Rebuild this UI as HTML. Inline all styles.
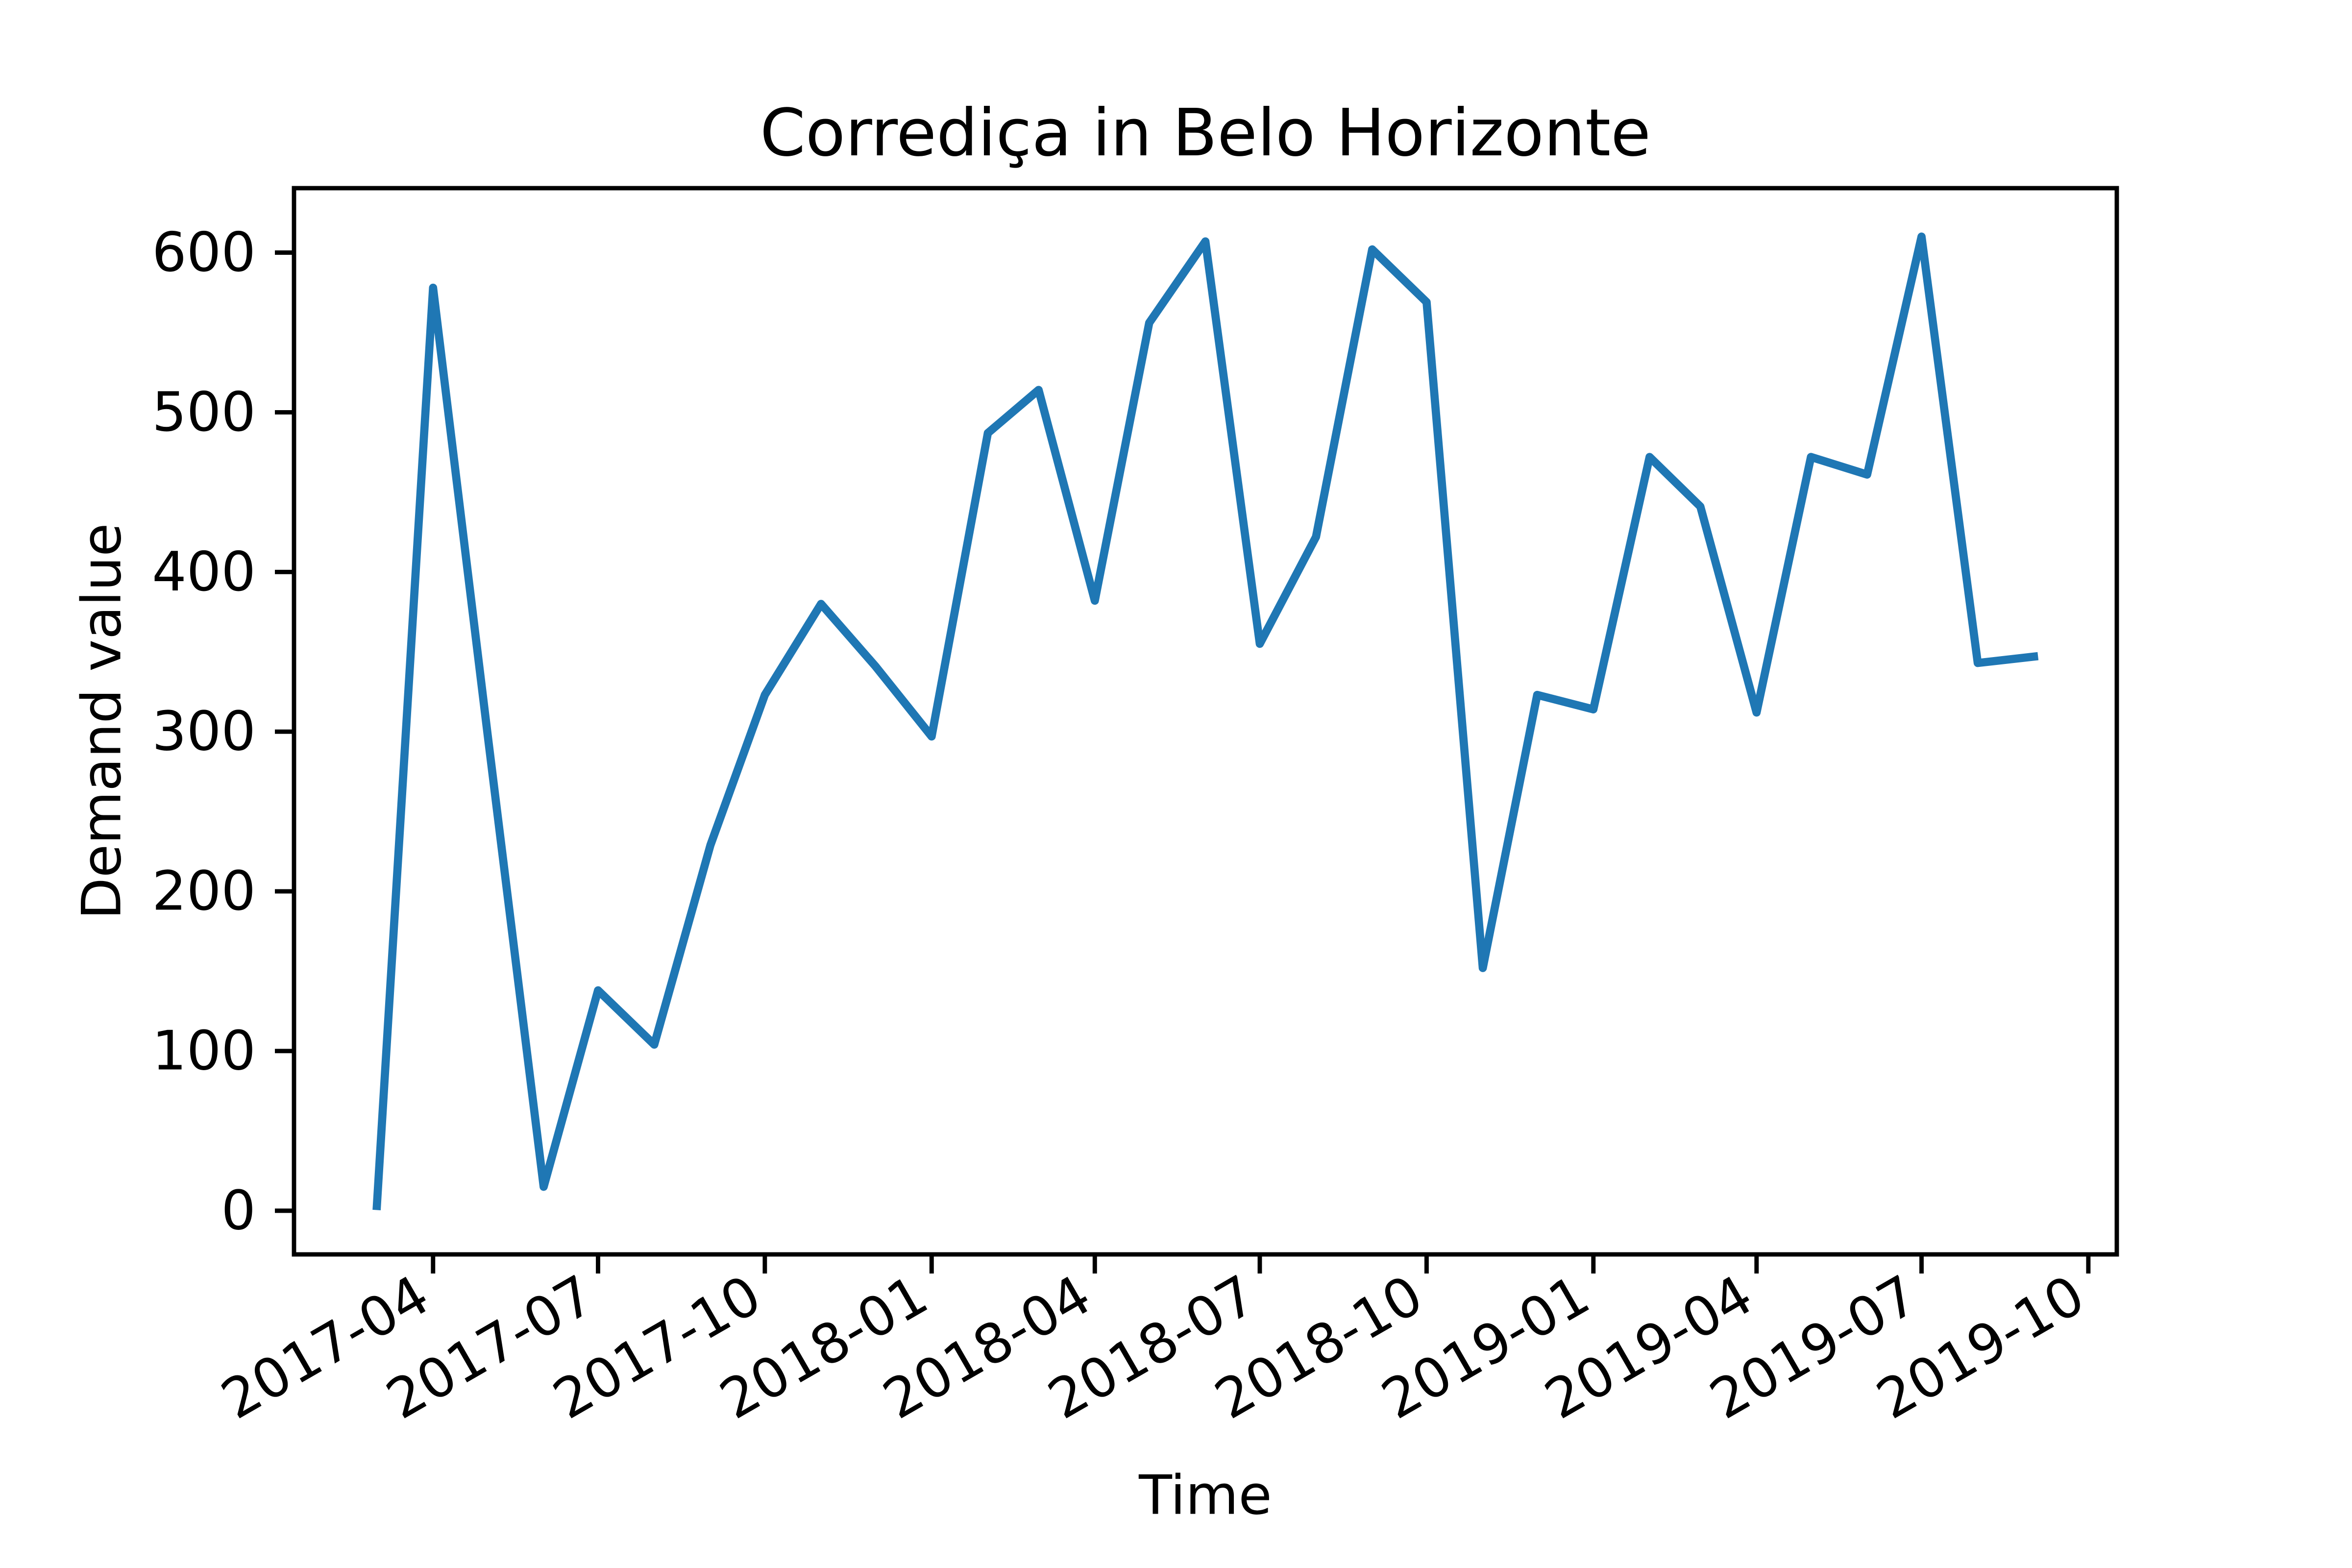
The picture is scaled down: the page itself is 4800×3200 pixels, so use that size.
<!DOCTYPE html>
<html><head><meta charset="utf-8"><style>html,body{margin:0;padding:0;background:#fff}svg{display:block}text{font-family:"DejaVu Sans","Liberation Sans",sans-serif;fill:#000}</style></head>
<body>
<svg id="chart" width="4800" height="3200" viewBox="0 0 4800 3200" xmlns="http://www.w3.org/2000/svg">
<rect width="4800" height="3200" fill="#fff"/>
<g id="plot"></g>
</svg>
<script>
const months = ["2017-03","2017-04","2017-05","2017-06","2017-07","2017-08","2017-09","2017-10","2017-11","2017-12","2018-01","2018-02","2018-03","2018-04","2018-05","2018-06","2018-07","2018-08","2018-09","2018-10","2018-11","2018-12","2019-01","2019-02","2019-03","2019-04","2019-05","2019-06","2019-07","2019-08","2019-09"];
const demand = [3,578,299,15,138,104,229,323,380,341,297,487,514,382,556,607,355,422,602,569,152,323,314,472,441,312,472,461,610,343,347];
const xTickLabels = ["2017-04","2017-07","2017-10","2018-01","2018-04","2018-07","2018-10","2019-01","2019-04","2019-07","2019-10"];
const yTickLabels = [0,100,200,300,400,500,600];

const L=600,R=4320,T=384,B=2560;
const NS="http://www.w3.org/2000/svg";
const g=document.getElementById('plot');
const day=s=>Date.UTC(+s.slice(0,4),+s.slice(5,7)-1,1)/864e5;
const xs=months.map(day);
const xmin0=Math.min(...xs),xmax0=Math.max(...xs),xr=xmax0-xmin0;
const xlo=xmin0-0.05*xr,xhi=xmax0+0.05*xr;
const ymin0=Math.min(...demand),ymax0=Math.max(...demand),yr=ymax0-ymin0;
const ylo=ymin0-0.05*yr,yhi=ymax0+0.05*yr;
const X=d=>L+(d-xlo)/(xhi-xlo)*(R-L);
const Y=v=>B-(v-ylo)/(yhi-ylo)*(B-T);
function el(t,a,txt){const e=document.createElementNS(NS,t);for(const k in a)e.setAttribute(k,a[k]);if(txt!=null)e.textContent=txt;g.appendChild(e);return e;}

const pts=xs.map((d,i)=>X(d).toFixed(1)+","+Y(demand[i]).toFixed(1)).join(" ");
const line=el('polyline',{points:pts,fill:'none',stroke:'#1f77b4','stroke-width':16.7,'stroke-linejoin':'round','stroke-linecap':'square'});



yTickLabels.forEach(v=>{
  const y=Y(v);
  const t=el('line',{x1:L-39,x2:L,y1:y,y2:y,stroke:'#000','stroke-width':8.9});
  
  
  const tx=el('text',{x:L-78,y:y,'text-anchor':'end','dominant-baseline':'central','font-size':111},String(v));
  
  
});
xTickLabels.forEach(s=>{
  const x=X(day(s));
  const t=el('line',{x1:x,x2:x,y1:B,y2:B+39,stroke:'#000','stroke-width':8.9});
  
  
  const tx=el('text',{x:0,y:0,dy:84,'text-anchor':'end','font-size':111,transform:`translate(${x-42},${B+34}) rotate(-30)`},s);
  
  
});
const fr=el('rect',{x:L,y:T,width:R-L,height:B-T,fill:'none',stroke:'#000','stroke-width':8.9});


const ti=el('text',{x:(L+R)/2,y:272,'text-anchor':'middle','dominant-baseline':'central','font-size':133},'Corrediça in Belo Horizonte');


const xl=el('text',{x:(L+R)/2,y:3052,'text-anchor':'middle','dominant-baseline':'central','font-size':111},'Time');


const yl=el('text',{x:0,y:0,'text-anchor':'middle','dominant-baseline':'central','font-size':111,transform:`translate(208,${(T+B)/2}) rotate(-90)`},'Demand value');


</script>
</body></html>
